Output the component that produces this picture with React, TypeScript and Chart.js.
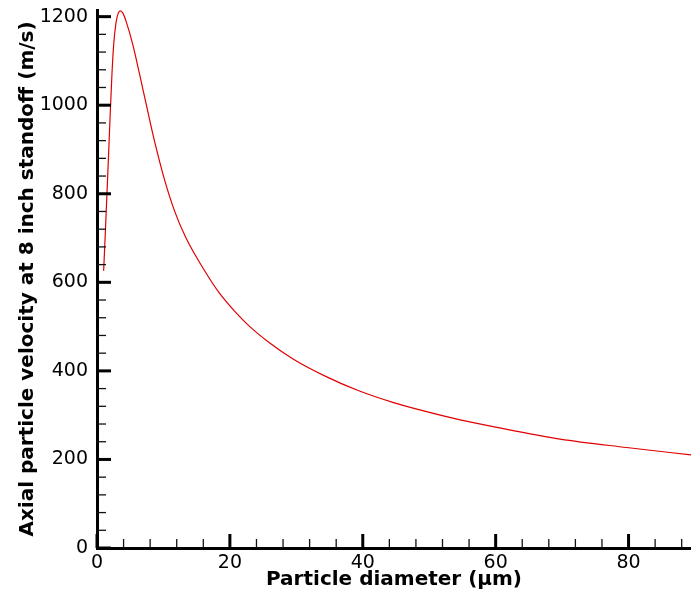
import React, { useEffect, useRef } from 'react';
import { Chart, registerables } from 'chart.js';

Chart.register(...registerables);

// Particle diameter (µm)
const diameters = [
  1.0, 1.25, 1.5, 1.75, 2.0, 2.25, 2.5, 2.85, 3.2, 3.5, 3.9, 4.37, 5.37, 6.38, 7.38,
  8.64, 10.14, 11.65, 13.4, 16.2, 18.4, 20.7, 23.0, 26.0, 29.5, 34.5, 39.4, 44.5,
  49.6, 54.5, 60.0, 69.7, 79.7, 89.5,
];
// Axial particle velocity at 8 inch standoff (m/s)
const velocities = [
  626, 711, 801, 891, 985, 1070, 1135, 1185, 1208, 1213, 1208, 1190, 1138, 1072, 1004,
  920, 833, 762, 700, 626, 576, 535, 500, 463, 427, 387, 355, 329,
  308, 290, 273, 246, 227, 210,
];

const xMajorTicks = [0, 20, 40, 60, 80];
const xMinorTicks = [4, 8, 12, 16, 24, 28, 32, 36, 44, 48, 52, 56, 64, 68, 72, 76, 84, 88];
const yMajorTicks = [0, 200, 400, 600, 800, 1000, 1200];
const yMinorTicks = [40, 80, 120, 160, 240, 280, 320, 360, 440, 480, 520, 560, 640, 680, 720, 760, 840, 880, 920, 960, 1040, 1080, 1120, 1160];

const xTitle = 'Particle diameter (\u03bcm)';
const yTitle = 'Axial particle velocity at 8 inch standoff (m/s)';

const FONT = '"DejaVu Sans", "Liberation Sans", Arial, sans-serif';

const inwardTicks = {
  id: 'inwardTicks',
  afterDatasetsDraw(chart: any) {
    const { ctx, chartArea, scales } = chart;
    const xs = scales.x;
    const ys = scales.y;
    ctx.save();
    ctx.lineCap = 'butt';
    const drawX = (v: number, len: number, w: number, c: string) => {
      const px = xs.getPixelForValue(v);
      if (px > chartArea.right + 0.5) return;
      ctx.beginPath();
      ctx.lineWidth = w;
      ctx.strokeStyle = c;
      ctx.moveTo(px, chartArea.bottom);
      ctx.lineTo(px, chartArea.bottom - len);
      ctx.stroke();
    };
    const drawY = (v: number, len: number, w: number, c: string) => {
      const py = ys.getPixelForValue(v);
      ctx.beginPath();
      ctx.lineWidth = w;
      ctx.strokeStyle = c;
      ctx.moveTo(chartArea.left, py);
      ctx.lineTo(chartArea.left + len, py);
      ctx.stroke();
    };
    xMinorTicks.forEach((v) => drawX(v, 9, 1.3, '#111'));
    yMinorTicks.forEach((v) => drawY(v, 9, 1.3, '#111'));
    xMajorTicks.forEach((v) => drawX(v, 14, 3, '#000'));
    yMajorTicks.forEach((v) => drawY(v, 14, 3, '#000'));
    ctx.restore();
  },
};

export default function App() {
  const canvasRef = useRef<HTMLCanvasElement | null>(null);

  useEffect(() => {
    document.body.style.margin = '0';
    const canvas = canvasRef.current;
    if (!canvas) return;
    const chart = new Chart(canvas, {
      type: 'line',
      data: {
        datasets: [
          {
            data: diameters.map((d, i) => ({ x: d, y: velocities[i] })),
            borderColor: '#e00000',
            borderWidth: 1.2,
            pointRadius: 0,
            fill: false,
            cubicInterpolationMode: 'monotone',
          },
        ],
      },
      options: {
        animation: false,
        responsive: false,
        devicePixelRatio: 1,
        layout: { padding: { top: 10, right: 0, bottom: 0, left: 0 } },
        plugins: {
          legend: { display: false },
          tooltip: { enabled: false },
        },
        scales: {
          x: {
            type: 'linear',
            min: 0,
            max: 89.4,
            grid: { display: false, drawTicks: false },
            border: { display: true, color: '#000', width: 3 },
            afterBuildTicks: (scale: any) => {
              scale.ticks = xMajorTicks.map((v) => ({ value: v }));
            },
            ticks: {
              color: '#000',
              padding: 4,
              maxRotation: 0,
              autoSkip: false,
              callback: (v: any) => String(v),
              font: { family: FONT, size: 19 },
            },
            title: {
              display: true,
              text: xTitle,
              color: '#000',
              font: { family: FONT, size: 20, weight: 'bold', lineHeight: 1.2 },
              padding: { top: 0, bottom: 9 },
            },
            afterFit: (scale: any) => {
              scale.height = 53;
              scale.paddingLeft = 0;
              scale.paddingRight = 0;
            },
          },
          y: {
            type: 'linear',
            min: 0,
            max: 1215,
            grid: { display: false, drawTicks: false },
            border: { display: true, color: '#000', width: 3 },
            afterBuildTicks: (scale: any) => {
              scale.ticks = yMajorTicks.map((v) => ({ value: v }));
            },
            ticks: {
              color: '#000',
              padding: 9,
              autoSkip: false,
              callback: (v: any) => String(v),
              font: { family: FONT, size: 19 },
            },
            title: {
              display: true,
              text: yTitle,
              color: '#000',
              font: { family: FONT, size: 20, weight: 'bold', lineHeight: 1.2 },
              padding: { top: 16, bottom: 0 },
            },
            afterFit: (scale: any) => {
              scale.width = 97;
              scale.paddingTop = 0;
              scale.paddingBottom = 0;
            },
          },
        },
      },
      plugins: [inwardTicks],
    } as any);
    return () => chart.destroy();
  }, []);

  return (
    <div style={{ width: 691, height: 601 }}>
      <canvas ref={canvasRef} width={691} height={601} style={{ display: 'block' }} />
    </div>
  );
}
